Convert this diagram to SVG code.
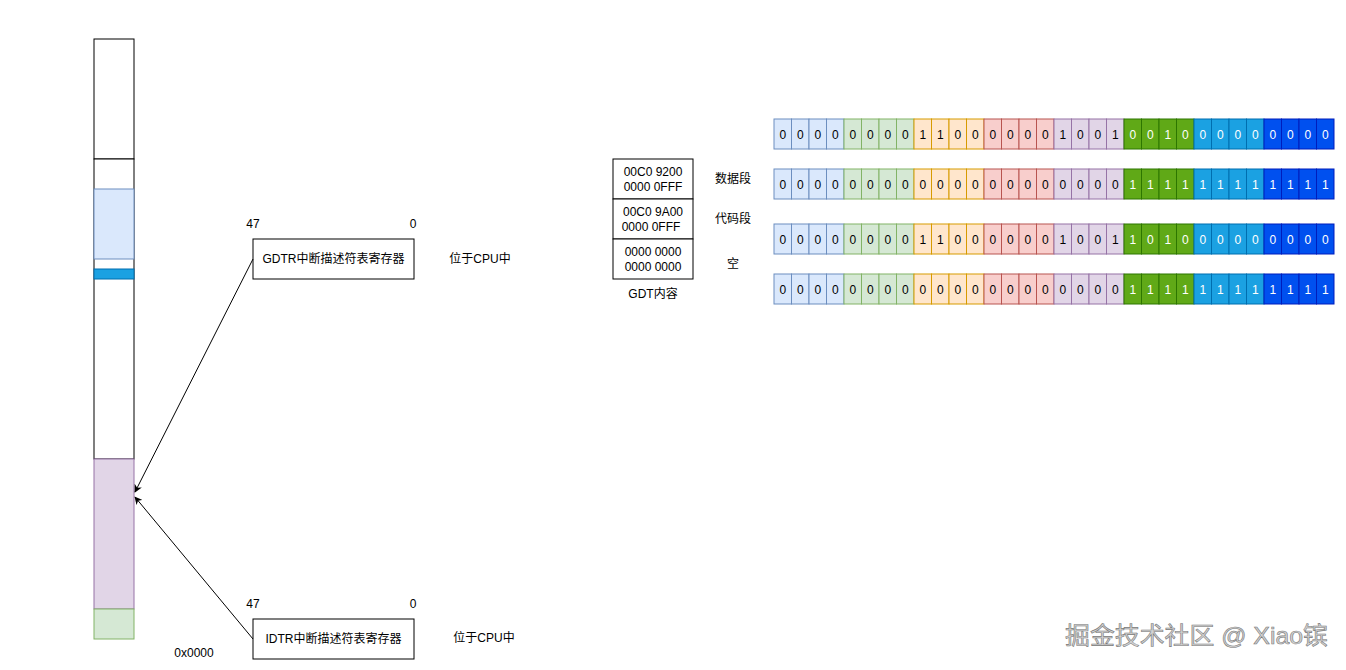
<svg xmlns="http://www.w3.org/2000/svg" xmlns:xlink="http://www.w3.org/1999/xlink" width="1346" height="670" viewBox="0 0 1346 670">
<style>
text{font-family:"Liberation Sans","Noto Sans CJK SC",sans-serif;font-size:12px;fill:#000}
.c{text-anchor:middle}
.w{fill:#fff}
.box{fill:#fff;stroke:#000;stroke-width:1}
.b1{fill:#dae8fc;stroke:#6c8ebf}
.g1{fill:#d5e8d4;stroke:#82b366}
.o1{fill:#ffe6cc;stroke:#d79b00}
.r1{fill:#f8cecc;stroke:#b85450}
.p1{fill:#e1d5e7;stroke:#9673a6}
.g2{fill:#60a917;stroke:#2d7600}
.b2{fill:#1ba1e2;stroke:#006eaf}
.b3{fill:#0050ef;stroke:#001dbc}
.conn{stroke:#000;stroke-width:1;fill:none}
.wm{font-size:24px;fill:#d2d2d2;stroke:#7a7a7a;stroke-width:0.6}
</style>
<defs>
<marker id="arr" viewBox="0 0 10 10" refX="9" refY="5" markerWidth="8" markerHeight="8" orient="auto" markerUnits="userSpaceOnUse">
<path d="M0,0 L10,5 L0,10 L3,5 Z" fill="#000"/>
</marker>
<g id="cells">
<rect class="b1" x="774" y="0" width="17.5" height="30"/><rect class="b1" x="791.5" y="0" width="17.5" height="30"/><rect class="b1" x="809" y="0" width="17.5" height="30"/><rect class="b1" x="826.5" y="0" width="17.5" height="30"/>
<rect class="g1" x="844" y="0" width="17.5" height="30"/><rect class="g1" x="861.5" y="0" width="17.5" height="30"/><rect class="g1" x="879" y="0" width="17.5" height="30"/><rect class="g1" x="896.5" y="0" width="17.5" height="30"/>
<rect class="o1" x="914" y="0" width="17.5" height="30"/><rect class="o1" x="931.5" y="0" width="17.5" height="30"/><rect class="o1" x="949" y="0" width="17.5" height="30"/><rect class="o1" x="966.5" y="0" width="17.5" height="30"/>
<rect class="r1" x="984" y="0" width="17.5" height="30"/><rect class="r1" x="1001.5" y="0" width="17.5" height="30"/><rect class="r1" x="1019" y="0" width="17.5" height="30"/><rect class="r1" x="1036.5" y="0" width="17.5" height="30"/>
<rect class="p1" x="1054" y="0" width="17.5" height="30"/><rect class="p1" x="1071.5" y="0" width="17.5" height="30"/><rect class="p1" x="1089" y="0" width="17.5" height="30"/><rect class="p1" x="1106.5" y="0" width="17.5" height="30"/>
<rect class="g2" x="1124" y="0" width="17.5" height="30"/><rect class="g2" x="1141.5" y="0" width="17.5" height="30"/><rect class="g2" x="1159" y="0" width="17.5" height="30"/><rect class="g2" x="1176.5" y="0" width="17.5" height="30"/>
<rect class="b2" x="1194" y="0" width="17.5" height="30"/><rect class="b2" x="1211.5" y="0" width="17.5" height="30"/><rect class="b2" x="1229" y="0" width="17.5" height="30"/><rect class="b2" x="1246.5" y="0" width="17.5" height="30"/>
<rect class="b3" x="1264" y="0" width="17.5" height="30"/><rect class="b3" x="1281.5" y="0" width="17.5" height="30"/><rect class="b3" x="1299" y="0" width="17.5" height="30"/><rect class="b3" x="1316.5" y="0" width="17.5" height="30"/>
</g>
</defs>
<rect width="1346" height="670" fill="#fff"/>

<g id="memory">
<rect class="box" x="94" y="39" width="40" height="120"/>
<rect class="box" x="94" y="159" width="40" height="300"/>
<rect class="b1" x="94" y="189" width="40" height="70"/>
<rect class="b2" x="94" y="269" width="40" height="10"/>
<rect class="p1" x="94" y="459" width="40" height="150"/>
<rect class="g1" x="94" y="609" width="40" height="30"/>
<text class="c" x="194" y="657">0x0000</text>
</g>

<g id="gdtr">
<rect class="box" x="253" y="239" width="161" height="40"/>
<text class="c" x="333.5" y="263">GDTR中断描述符表寄存器</text>
<text class="c" x="253" y="228">47</text>
<text class="c" x="413" y="228">0</text>
<text class="c" x="480" y="263">位于CPU中</text>
</g>

<g id="idtr">
<rect class="box" x="253" y="619" width="161" height="40"/>
<text class="c" x="333.5" y="643">IDTR中断描述符表寄存器</text>
<text class="c" x="253" y="608">47</text>
<text class="c" x="413" y="608">0</text>
<text class="c" x="484" y="642">位于CPU中</text>
</g>

<g id="gdt">
<rect class="box" x="613" y="159" width="80" height="40"/>
<rect class="box" x="613" y="199" width="80" height="40"/>
<rect class="box" x="613" y="239" width="80" height="40"/>
<text class="c" x="653" y="176">00C0 9200</text>
<text class="c" x="653" y="191">0000 0FFF</text>
<text class="c" x="653" y="216">00C0 9A00</text>
<text class="c" x="651" y="231">0000 0FFF</text>
<text class="c" x="653" y="256">0000 0000</text>
<text class="c" x="653" y="271">0000 0000</text>
<text class="c" x="653" y="298">GDT内容</text>
</g>

<g id="labels">
<text class="c" x="733" y="183">数据段</text>
<text class="c" x="733" y="223">代码段</text>
<text class="c" x="733" y="268">空</text>
</g>

<g id="row1" transform="translate(0,119)">
<use xlink:href="#cells" href="#cells"/>
<text class="c" y="19.5" x="782.75 800.25 817.75 835.25 852.75 870.25 887.75 905.25 922.75 940.25 957.75 975.25 992.75 1010.25 1027.75 1045.25 1062.75 1080.25 1097.75 1115.25">00000000110000001001</text>
<text class="c w" y="19.5" x="1132.75 1150.25 1167.75 1185.25 1202.75 1220.25 1237.75 1255.25 1272.75 1290.25 1307.75 1325.25">001000000000</text>
</g>
<g id="row2" transform="translate(0,169)">
<use xlink:href="#cells" href="#cells"/>
<text class="c" y="19.5" x="782.75 800.25 817.75 835.25 852.75 870.25 887.75 905.25 922.75 940.25 957.75 975.25 992.75 1010.25 1027.75 1045.25 1062.75 1080.25 1097.75 1115.25">00000000000000000000</text>
<text class="c w" y="19.5" x="1132.75 1150.25 1167.75 1185.25 1202.75 1220.25 1237.75 1255.25 1272.75 1290.25 1307.75 1325.25">111111111111</text>
</g>
<g id="row3" transform="translate(0,224)">
<use xlink:href="#cells" href="#cells"/>
<text class="c" y="19.5" x="782.75 800.25 817.75 835.25 852.75 870.25 887.75 905.25 922.75 940.25 957.75 975.25 992.75 1010.25 1027.75 1045.25 1062.75 1080.25 1097.75 1115.25">00000000110000001001</text>
<text class="c w" y="19.5" x="1132.75 1150.25 1167.75 1185.25 1202.75 1220.25 1237.75 1255.25 1272.75 1290.25 1307.75 1325.25">101000000000</text>
</g>
<g id="row4" transform="translate(0,274)">
<use xlink:href="#cells" href="#cells"/>
<text class="c" y="19.5" x="782.75 800.25 817.75 835.25 852.75 870.25 887.75 905.25 922.75 940.25 957.75 975.25 992.75 1010.25 1027.75 1045.25 1062.75 1080.25 1097.75 1115.25">00000000000000000000</text>
<text class="c w" y="19.5" x="1132.75 1150.25 1167.75 1185.25 1202.75 1220.25 1237.75 1255.25 1272.75 1290.25 1307.75 1325.25">111111111111</text>
</g>

<g id="connectors">
<line class="conn" x1="253" y1="259" x2="135" y2="492" marker-end="url(#arr)"/>
<line class="conn" x1="253" y1="639" x2="135" y2="497" marker-end="url(#arr)"/>
</g>

<text class="wm" x="1065" y="644" textLength="263" lengthAdjust="spacingAndGlyphs">掘金技术社区 @ Xiao镔</text>
</svg>
